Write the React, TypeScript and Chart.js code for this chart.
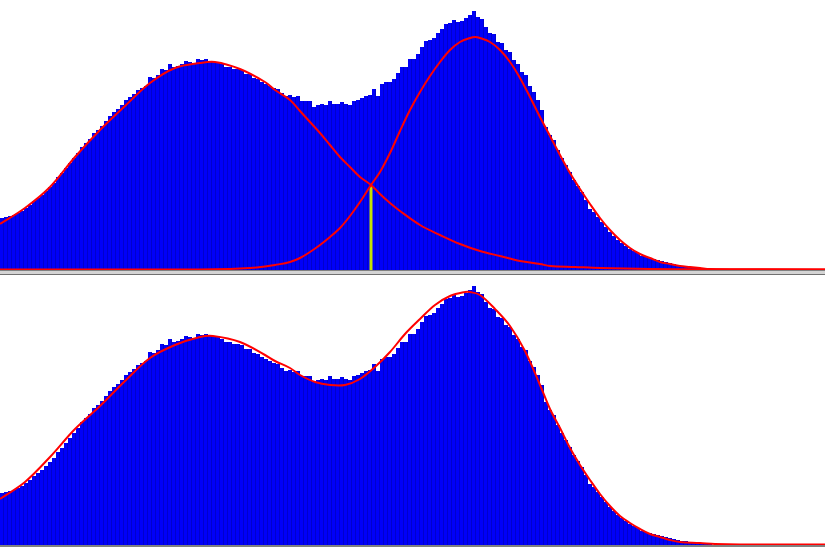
import React, { useEffect, useRef } from "react";
import { Chart, registerables } from "chart.js";

Chart.register(...registerables);

// Histogram counts per bin (206 bins across the axis, data in the first 178)
const binCounts = [
  52, 53, 54, 55, 57, 59, 62, 65, 69, 72,
  75, 79, 83, 87, 93, 97, 102, 107, 112, 117,
  123, 127, 131, 137, 140, 144, 149, 154, 158, 161,
  165, 170, 173, 176, 180, 182, 184, 193, 192, 195,
  201, 200, 206, 203, 204, 206, 209, 208, 207, 211,
  210, 211, 209, 208, 208, 206, 203, 203, 201, 201,
  200, 196, 196, 192, 191, 188, 186, 184, 182, 181,
  177, 174, 175, 173, 174, 169, 169, 169, 163, 165,
  166, 165, 169, 166, 166, 168, 166, 165, 169, 170,
  172, 174, 175, 181, 174, 186, 188, 188, 191, 197,
  203, 203, 211, 211, 216, 223, 229, 230, 232, 237,
  241, 246, 247, 250, 248, 249, 252, 255, 259, 253,
  251, 243, 237, 236, 228, 227, 220, 218, 210, 206,
  198, 195, 184, 178, 170, 160, 143, 135, 130, 120,
  112, 105, 98, 90, 84, 78, 70, 61, 58, 53,
  48, 43, 38, 34, 30, 27, 24, 21, 19, 17,
  14, 13, 12, 11, 10, 9, 8, 7, 6, 5,
  4, 4, 3, 3, 2, 2, 2, 1,
];

const X_MAX = 206.25;
const Y_MAX = 270;

// First fitted component (left mode)
const fit1X = [0, 6.25, 12.5, 18.75, 25, 31.25, 37.5, 43.75, 50, 53.75, 60, 66.25, 68.75, 72.5, 75, 77.5, 80, 82.5, 85, 87.5, 90, 92.75, 95, 97.5, 100, 105, 110, 115, 120, 125, 130, 135, 137.5, 143.75, 150, 162.5, 175, 206.25];
const fit1Y = [46, 62, 83, 113, 140, 164, 187, 202, 207, 208, 201, 188, 180, 170, 159, 148, 137, 125, 113, 103, 93, 85, 76, 67, 59, 45, 35, 26, 19, 14, 9, 6, 4, 3, 2, 1, 0.8, 0.5];

// Second fitted component (right mode)
const fit2X = [0, 50, 57.5, 62.5, 66.25, 68.75, 72.5, 75, 77.5, 80, 82.5, 85, 87.5, 90, 92.75, 95, 97.5, 100, 102.5, 105, 107.5, 110, 112.5, 115, 117.5, 118.75, 120, 122.5, 125, 127.5, 130, 132.5, 135, 137.5, 140, 142.5, 145, 147.5, 150, 152.5, 155, 157.5, 160, 162.5, 165, 167.5, 170, 172.5, 175, 177.5, 185, 206.25];
const fit2Y = [0.5, 0.5, 1, 2, 3.5, 5, 8, 12, 18, 25, 33, 42, 54, 68, 85, 98, 117, 139, 160, 178, 194, 208, 220, 228, 232, 233, 232, 228, 220, 208, 192, 173, 153, 134, 115, 97, 81, 66, 52, 40, 30, 22, 16, 12, 8, 6, 4, 3, 2, 1, 0.5, 0.5];

// Sum of both components
const sumX = [0, 6.25, 12.5, 18.75, 25, 31.25, 37.5, 43.75, 50, 53.25, 60, 66.25, 68.75, 72.5, 75, 78.75, 82.5, 86.25, 90, 93.75, 97.5, 101.25, 105, 108.75, 112.5, 116.25, 117.5, 120, 123.75, 127.5, 131.25, 135, 137.5, 140, 142.5, 145, 147.5, 150, 152.5, 155, 157.5, 160, 162.5, 165, 167.5, 170, 175, 178.75, 185, 206.25];
const sumY = [46, 63, 88, 116, 139, 164, 187, 200, 208, 209, 203, 190, 184, 177, 170, 163, 160, 160, 166, 178, 193, 211, 226, 240, 249, 253, 253, 250, 236, 219, 194, 160, 136, 117, 97, 80, 65, 51, 39, 29, 22, 16, 11, 8, 5, 3, 2, 1, 0.5, 0.5];

// Threshold at the crossing of both components
const thresholdBin = 92.75;
const thresholdHeight = 84;

const pts = (xs: number[], ys: number[]) => xs.map((x, i) => ({ x, y: ys[i] }));

type LineDef = { xs: number[]; ys: number[]; color: string; width: number; order: number; smooth: boolean };

function Panel({ lines, top }: { lines: LineDef[]; top: number }) {
  const ref = useRef<HTMLCanvasElement | null>(null);
  useEffect(() => {
    if (!ref.current) return;
    const datasets: any[] = [
      {
        type: "bar",
        data: binCounts.map((v, i) => ({ x: i + 0.5, y: v })),
        backgroundColor: "#0000f8",
        borderColor: "#0000cc",
        borderWidth: { left: 0, right: 1, top: 0, bottom: 0 },
        borderSkipped: false,
        inflateAmount: 0,
        barPercentage: 1,
        categoryPercentage: 1,
        order: 10,
      },
      ...lines.map((l) => ({
        type: "line",
        data: pts(l.xs, l.ys),
        borderColor: l.color,
        borderWidth: l.width,
        pointRadius: 0,
        fill: false,
        tension: l.smooth ? 0.35 : 0,
        borderCapStyle: "butt",
        borderJoinStyle: "round",
        order: l.order,
      })),
    ];
    const chart = new Chart(ref.current, {
      type: "bar",
      data: { datasets },
      options: {
        animation: false,
        responsive: false,
        maintainAspectRatio: false,
        layout: { padding: 0 },
        plugins: { legend: { display: false }, tooltip: { enabled: false } },
        scales: {
          x: { type: "linear", min: 0, max: X_MAX, display: false, offset: false },
          y: { type: "linear", min: 0, max: Y_MAX, display: false },
        },
      },
    });
    return () => chart.destroy();
  }, []);
  return (
    <canvas
      ref={ref}
      width={825}
      height={270}
      style={{ position: "absolute", left: 0, top, width: 825, height: 270 }}
    />
  );
}

export default function App() {
  const topLines: LineDef[] = [
    { xs: [thresholdBin, thresholdBin], ys: [0, thresholdHeight], color: "#c4e000", width: 3, order: 5, smooth: false },
    { xs: fit1X, ys: fit1Y, color: "#ff0000", width: 2, order: 1, smooth: true },
    { xs: fit2X, ys: fit2Y, color: "#ff0000", width: 2, order: 2, smooth: true },
  ];
  const bottomLines: LineDef[] = [
    { xs: sumX, ys: sumY, color: "#ff0000", width: 2, order: 1, smooth: true },
  ];
  return (
    <div style={{ position: "fixed", left: 0, top: 0, width: 825, height: 547, background: "#ffffff", overflow: "hidden" }}>
      <Panel lines={topLines} top={0} />
      <div style={{ position: "absolute", left: 0, top: 270, width: 825, height: 1, background: "#808080" }} />
      <div style={{ position: "absolute", left: 0, top: 271, width: 825, height: 3, background: "#d4d4d4" }} />
      <div style={{ position: "absolute", left: 0, top: 274, width: 825, height: 1, background: "#707070" }} />
      <Panel lines={bottomLines} top={275} />
      <div style={{ position: "absolute", left: 0, top: 545, width: 825, height: 2, background: "#808080" }} />
    </div>
  );
}
